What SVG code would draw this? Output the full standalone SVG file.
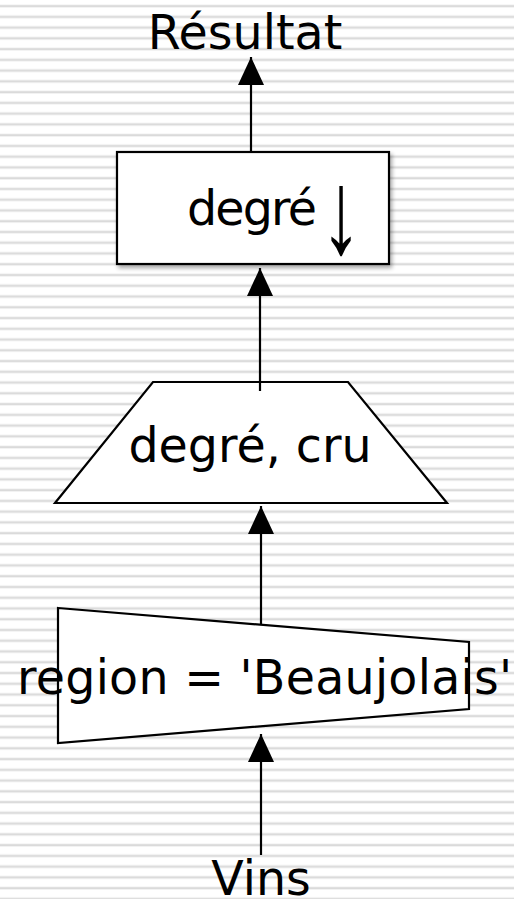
<svg xmlns="http://www.w3.org/2000/svg" width="514" height="899" viewBox="0 0 514 899">
  <defs>
    <pattern id="bg" x="0" y="4" width="514" height="10.757" patternUnits="userSpaceOnUse">
      <rect x="0" y="0" width="514" height="10.757" fill="#ffffff"/>
      <rect x="0" y="0.6" width="514" height="3" fill="#ececec"/>
      <rect x="0" y="1.3" width="514" height="1.6" fill="#dadada"/>
    </pattern>
    <marker id="arr" viewBox="0 0 28 26" refX="28" refY="13" markerWidth="28" markerHeight="26" markerUnits="userSpaceOnUse" orient="auto">
      <path d="M0,0 L28,13 L0,26 Z" fill="#000"/>
    </marker>
    <filter id="shadow" x="-10%" y="-10%" width="125%" height="130%">
      <feGaussianBlur in="SourceAlpha" stdDeviation="2"/>
      <feOffset dx="2" dy="3" result="b"/>
      <feComponentTransfer><feFuncA type="linear" slope="0.35"/></feComponentTransfer>
      <feMerge><feMergeNode/><feMergeNode in="SourceGraphic"/></feMerge>
    </filter>
  </defs>
  <style>
    .shape { fill: #ffffff; stroke: #000000; stroke-width: 2.2; }
    .conn { stroke: #000000; stroke-width: 2.2; fill: none; }
    .lbl { font-family: "DejaVu Sans", Verdana, sans-serif; font-size: 47.5px; fill: #000000; }
  </style>
  <rect x="0" y="0" width="514" height="899" fill="url(#bg)"/>

  <g id="n-resultat">
    <text class="lbl" x="245" y="49" text-anchor="middle">Résultat</text>
  </g>

  <g id="n-tri">
    <rect class="shape" x="117" y="152" width="272" height="112" filter="url(#shadow)"/>
    <text class="lbl" x="187" y="225" font-size="45" textLength="130">degré</text>
    <text transform="translate(341,253) scale(1.25,1.8)" x="0" y="0" text-anchor="middle" font-family="Liberation Sans, sans-serif" font-size="66" fill="#000">↓</text>
  </g>

  <g id="n-projection">
    <polygon class="shape" points="153,382 348,382 447,503 55,503"/>
    <text class="lbl" x="250" y="462" text-anchor="middle">degré, cru</text>
  </g>

  <g id="n-selection">
    <polygon class="shape" points="58,608 469,642 469,709 58,743"/>
    <text class="lbl" x="17" y="694" textLength="495">region = 'Beaujolais'</text>
  </g>

  <g id="n-vins">
    <text class="lbl" x="261" y="895" text-anchor="middle">Vins</text>
  </g>

  <g id="connectors">
    <line class="conn" x1="261" y1="855" x2="261" y2="734" marker-end="url(#arr)"/>
    <line class="conn" x1="261" y1="624" x2="261" y2="506" marker-end="url(#arr)"/>
    <line class="conn" x1="260" y1="391" x2="260" y2="268" marker-end="url(#arr)"/>
    <line class="conn" x1="251" y1="152" x2="251" y2="57" marker-end="url(#arr)"/>
  </g>
</svg>
